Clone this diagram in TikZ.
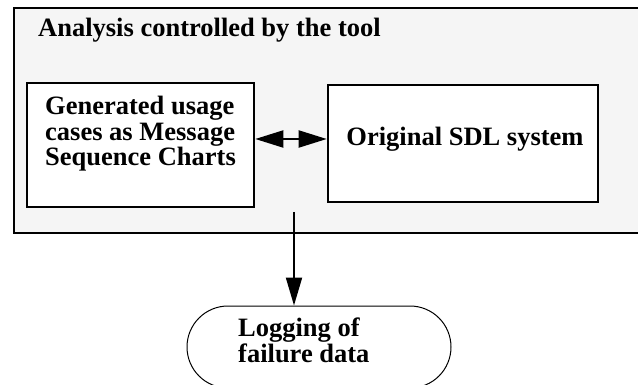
\documentclass[tikz,border=0pt]{standalone}
\usepackage{fontspec}
\setmainfont{Liberation Serif}
\usetikzlibrary{arrows.meta,shapes.misc}
\begin{document}
\begin{tikzpicture}[x=1pt,y=-1pt,
  lbl/.style={font=\bfseries\fontsize{26.5}{25.5}\selectfont, align=left, inner sep=0pt},
  box/.style={draw=black, line width=2.6pt, fill=white},
  tip/.style={Triangle[length=28pt,width=17pt]},
  flow/.style={line width=2pt, -{Triangle[length=28pt,width=16pt]}},
  both/.style={line width=2pt, {Triangle[length=28pt,width=17pt]}-{Triangle[length=28pt,width=17pt]}}]
\useasboundingbox (0,0) rectangle (638,385);
\clip (0,0) rectangle (638,385);
% surrounding analysis area
\draw[line width=2.8pt, fill=black!4] (14,8) rectangle (660,233);
\node[lbl, anchor=base west] (title) at (38,37) {Analysis controlled by the tool};
% the two inner boxes
\node[box, minimum width=227pt, minimum height=124pt, inner sep=0pt] (msc) at (140.5,145) {};
\node[lbl, anchor=base west] (msctext) at (45,166) {Generated usage\\cases as Message\\Sequence Charts};
\node[box, minimum width=270pt, minimum height=117pt, inner sep=0pt] (sdl) at (463,143.5) {};
\node[lbl, anchor=base] (sdltext) at (465,146) {Original SDL system};
% logging terminal
\node[draw=black, line width=1pt, rounded rectangle, minimum width=264pt, minimum height=82pt, inner sep=0pt] (log) at (319,347) {};
\node[lbl, anchor=base west] (logtext) at (238,362) {Logging of\\failure data};
% connectors
\draw[both] (msc.east |- 0,139) -- (sdl.west |- 0,139);
\coordinate (src) at (294,212);
\draw[flow] (src) -- (log.north -| src);
\end{tikzpicture}
\end{document}
